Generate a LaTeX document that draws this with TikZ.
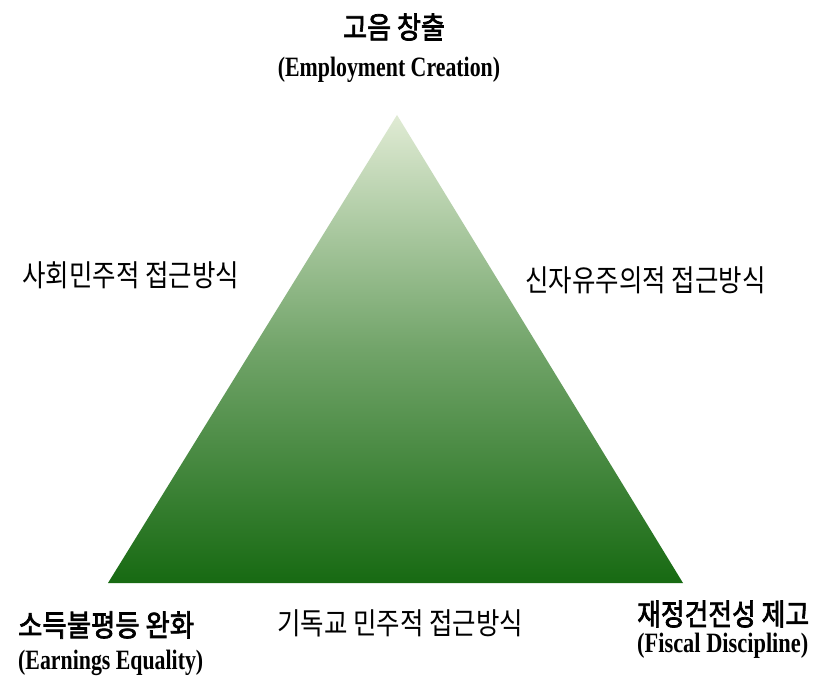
\documentclass[tikz,border=0pt]{standalone}
\usepackage{fontspec}
\usepackage{graphicx}
\setmainfont{Liberation Serif}
\newfontfamily\kr{Noto Sans CJK KR}
\newfontfamily\krb{Noto Sans CJK KR}[FakeBold=2.5]
\newcommand\sx[2]{\scalebox{#1}[1]{#2}}
\tikzset{
  krlabel/.style={inner sep=0pt, font=\kr\fontsize{30}{32}\selectfont},
  krtitle/.style={inner sep=0pt, font=\krb\fontsize{30}{32}\selectfont},
  entitle/.style={inner sep=0pt, font=\bfseries\fontsize{28}{30}\selectfont}
}
\definecolor{topgreen}{HTML}{E0EBD4}
\definecolor{botgreen}{HTML}{176A12}
\begin{document}
\begin{tikzpicture}[x=1pt,y=-1pt]
\useasboundingbox (0,0) rectangle (824,682);
\fill[white] (0,0) rectangle (824,682);
\coordinate (A) at (397,115);
\coordinate (B) at (108,583);
\coordinate (C) at (683,583);
\shade[top color=topgreen, bottom color=botgreen, middle color=topgreen!45!botgreen] (A) -- (B) -- (C) -- cycle;
\node[krtitle] (t1) at (394,27) {\sx{0.87}{고음 창출}};
\node[entitle] (t1e) at (389,70) {\sx{0.78}{(Employment Creation)}};
\node[krlabel, anchor=west] (l1) at (22,275) {\sx{0.85}{사회민주적 접근방식}};
\node[krlabel, anchor=west] (l2) at (525,280) {\sx{0.85}{신자유주의적 접근방식}};
\node[krlabel, anchor=west] (l3) at (277,623) {\sx{0.85}{기독교 민주적 접근방식}};
\node[krtitle, anchor=west] (bl) at (18,625) {\sx{0.88}{소득불평등 완화}};
\node[entitle, anchor=west] (ble) at (18,663) {\sx{0.78}{(Earnings Equality)}};
\node[krtitle, anchor=west] (br) at (637,614) {\sx{0.86}{재정건전성 제고}};
\node[entitle, anchor=west] (bre) at (637,646) {\sx{0.8}{(Fiscal Discipline)}};
\end{tikzpicture}
\end{document}
